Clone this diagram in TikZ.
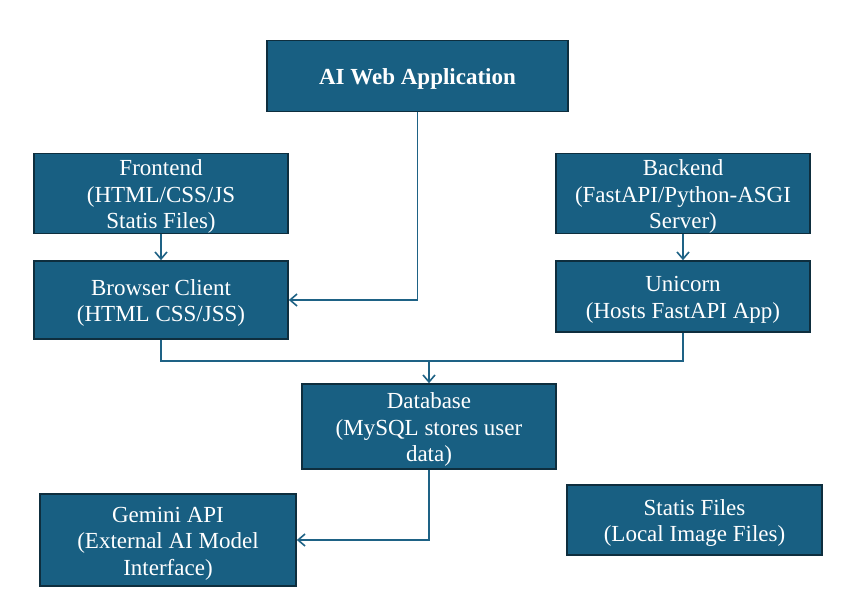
\documentclass[tikz,border=0pt]{standalone}
\usepackage{fontspec}
\setmainfont{Liberation Serif}
\usetikzlibrary{arrows.meta}
\definecolor{boxfill}{HTML}{185F82}
\definecolor{boxedge}{HTML}{0E2E3E}
\definecolor{linecol}{HTML}{1E6285}
\newcommand\topstrut{\rule{0pt}{22pt}}
\begin{document}
\begin{tikzpicture}[x=1pt,y=-1pt,
  box/.style={draw=boxedge,line width=1.6pt,fill=boxfill,text=white,align=center,
    font=\fontsize{23}{26.5}\selectfont,inner sep=0pt},
  conn/.style={draw=linecol,line width=1.6pt,-{Straight Barb[length=7pt,width=12pt]}},
  plain/.style={draw=linecol,line width=1.6pt}]
\useasboundingbox (0,0) rectangle (864,597);
\node[box,minimum width=301pt,minimum height=71pt,font=\bfseries\fontsize{23}{26.5}\selectfont] (ai) at (417.5,76) {\topstrut AI Web Application};
\node[box,minimum width=254pt,minimum height=79pt] (fe) at (161,193.5) {\topstrut Frontend\\(HTML/CSS/JS\\Statis Files)};
\node[box,minimum width=254pt,minimum height=78pt] (bc) at (161,300) {\topstrut Browser Client\\(HTML CSS/JSS)};
\node[box,minimum width=254pt,minimum height=79pt] (be) at (683,193.5) {\topstrut Backend\\(FastAPI/Python-ASGI\\Server)};
\node[box,minimum width=254pt,minimum height=71pt] (uc) at (683,296.5) {\topstrut Unicorn\\(Hosts FastAPI App)};
\node[box,minimum width=254pt,minimum height=85pt] (db) at (429,426.5) {\topstrut Database\\(MySQL stores user\\data)};
\node[box,minimum width=256pt,minimum height=92pt] (gm) at (168,540) {\topstrut Gemini API\\(External AI Model\\Interface)};
\node[box,minimum width=255pt,minimum height=70pt] (sf) at (694.5,520) {\topstrut Statis Files\\(Local Image Files)};
\coordinate (j) at (429,361);
\draw[conn] (ai.south) |- (bc.east);
\draw[conn] (fe.south) -- (bc.north);
\draw[conn] (be.south) -- (uc.north);
\draw[plain] (bc.south) |- (j);
\draw[plain] (uc.south) |- (j);
\draw[conn] (j) -- (db.north);
\draw[conn] (db.south) |- (gm.east);
\end{tikzpicture}
\end{document}
